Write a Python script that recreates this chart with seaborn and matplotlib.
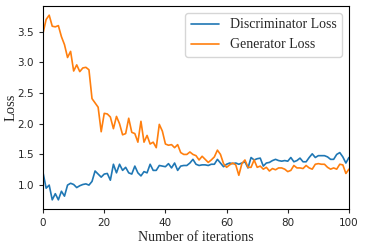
import numpy as np
import pandas as pd
import seaborn as sns
import matplotlib.pyplot as plt

iterations = list(range(101))

disc_loss = [1.20, 0.95, 1.00, 0.76, 0.86, 0.76, 0.90, 0.82, 1.00, 1.03,
             1.01, 0.96, 0.99, 1.01, 1.02, 1.00, 1.06, 1.23, 1.18, 1.13,
             1.18, 1.19, 1.08, 1.34, 1.20, 1.34, 1.24, 1.29, 1.20, 1.18,
             1.31, 1.20, 1.15, 1.22, 1.20, 1.34, 1.24, 1.24, 1.32, 1.31,
             1.30, 1.35, 1.28, 1.36, 1.24, 1.31, 1.32, 1.32, 1.36, 1.42,
             1.34, 1.32, 1.33, 1.33, 1.32, 1.34, 1.34, 1.42, 1.36, 1.30,
             1.34, 1.36, 1.35, 1.36, 1.34, 1.36, 1.38, 1.28, 1.45, 1.41,
             1.43, 1.44, 1.31, 1.36, 1.37, 1.40, 1.42, 1.40, 1.39, 1.40,
             1.39, 1.45, 1.38, 1.40, 1.44, 1.38, 1.38, 1.45, 1.51, 1.45,
             1.48, 1.48, 1.48, 1.46, 1.42, 1.42, 1.50, 1.53, 1.46, 1.36,
             1.45]

gen_loss = [3.48, 3.70, 3.77, 3.59, 3.58, 3.60, 3.42, 3.29, 3.08, 3.18,
            2.86, 2.96, 2.85, 2.91, 2.92, 2.88, 2.41, 2.34, 2.27, 1.87,
            2.17, 2.16, 2.11, 1.92, 2.12, 2.00, 1.82, 1.84, 2.09, 1.86,
            1.84, 1.70, 2.04, 1.70, 1.81, 1.67, 1.70, 1.61, 1.99, 1.88,
            1.67, 1.65, 1.66, 1.61, 1.66, 1.53, 1.50, 1.50, 1.54, 1.50,
            1.48, 1.41, 1.47, 1.42, 1.37, 1.41, 1.46, 1.57, 1.50, 1.35,
            1.29, 1.33, 1.36, 1.33, 1.16, 1.35, 1.41, 1.29, 1.29, 1.41,
            1.29, 1.31, 1.26, 1.29, 1.23, 1.27, 1.25, 1.28, 1.28, 1.26,
            1.22, 1.24, 1.32, 1.28, 1.28, 1.27, 1.32, 1.28, 1.26, 1.34,
            1.35, 1.34, 1.34, 1.29, 1.26, 1.28, 1.26, 1.34, 1.33, 1.19,
            1.26]

df = pd.DataFrame({
    'iteration': iterations * 2,
    'loss': disc_loss + gen_loss,
    'series': ['Discriminator Loss'] * len(iterations) + ['Generator Loss'] * len(iterations),
})

sns.set_style('ticks')
plt.rcParams['font.family'] = ['DejaVu Sans']

fig = plt.figure(figsize=(3.65, 2.48), dpi=100)
ax = fig.add_axes([0.118, 0.157, 0.838, 0.819])

sns.lineplot(data=df, x='iteration', y='loss', hue='series',
             palette=['#1f77b4', '#ff7f0e'], linewidth=1.2, ax=ax)

ax.set_xlim(0, 100)
ax.set_xticks([0, 20, 40, 60, 80, 100])
ax.set_yticks([1.0, 1.5, 2.0, 2.5, 3.0, 3.5])
ax.tick_params(labelsize=7.5, length=3, width=0.8)
for sp in ax.spines.values():
    sp.set_color('black')
    sp.set_linewidth(0.8)

serif = ['Liberation Serif', 'DejaVu Serif']
ax.set_xlabel('Number of iterations', fontsize=10, family=serif, labelpad=2)
ax.set_ylabel('Loss', fontsize=10.5, family=serif, labelpad=0)

leg = ax.legend(loc='upper right', prop={'family': serif, 'size': 10},
                frameon=True, fancybox=True, handlelength=2.0)
leg.get_frame().set_edgecolor('#cccccc')

fig.savefig('out.png', dpi=100)
